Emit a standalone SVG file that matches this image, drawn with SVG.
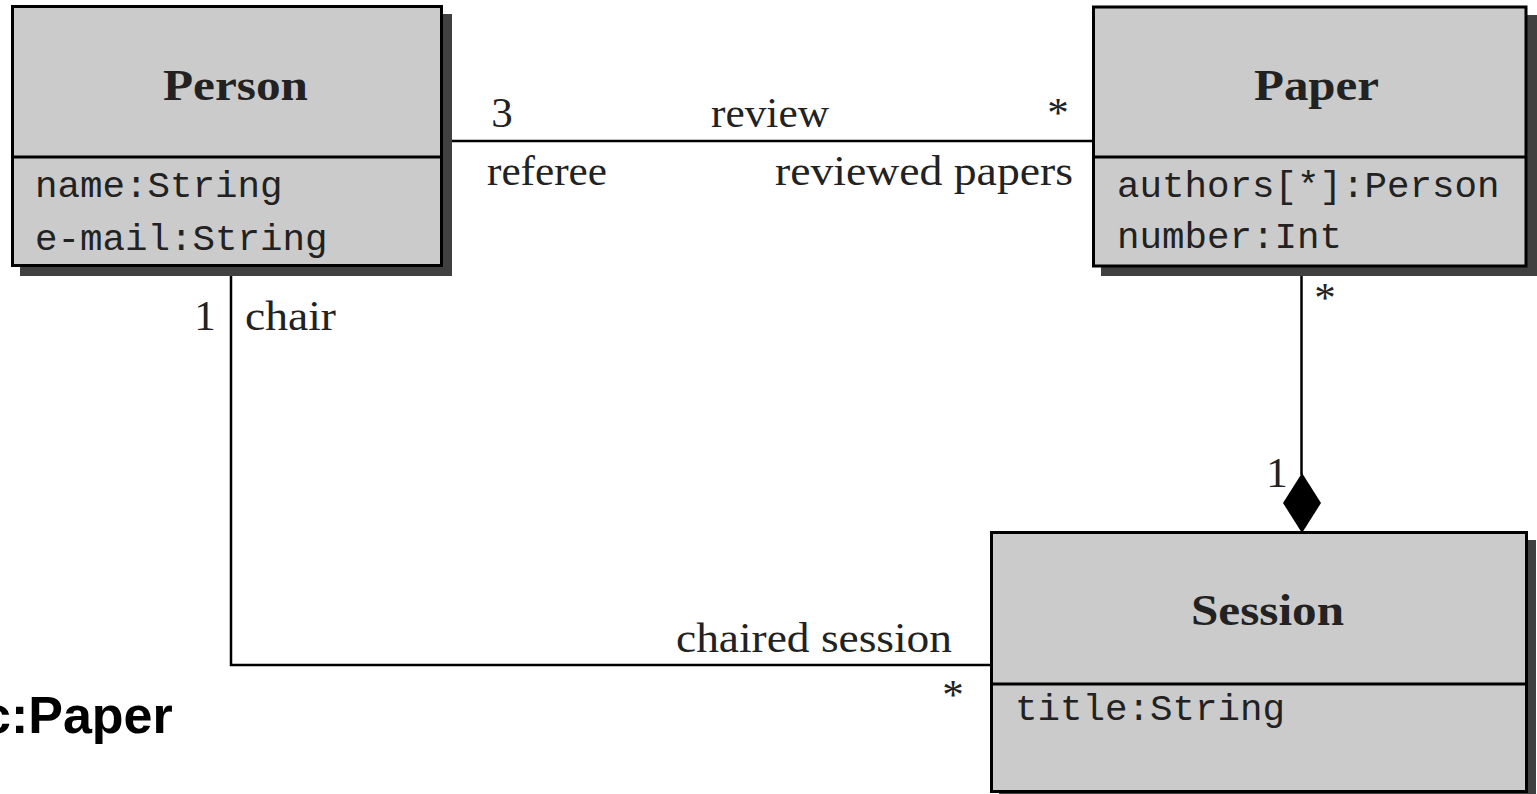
<svg xmlns="http://www.w3.org/2000/svg" width="1537" height="794" viewBox="0 0 1537 794">
  <style>
    .shadow { fill: #404040; }
    .box { fill: #cbcbcb; stroke: #000; stroke-width: 3; }
    .div { stroke: #000; stroke-width: 3; }
    .title { font-family: "Liberation Serif", "DejaVu Serif", serif; font-weight: bold; font-size: 44px; fill: #222; text-anchor: middle; }
    .attr { font-family: "Liberation Mono", "DejaVu Sans Mono", monospace; font-size: 37.5px; fill: #222; }
    .lbl { font-family: "Liberation Serif", "DejaVu Serif", serif; font-size: 43px; fill: #222; }
    .edge { fill: none; stroke: #000; stroke-width: 2.5; }
    .note { font-family: "Liberation Sans", Arial, sans-serif; font-weight: bold; font-size: 52px; fill: #000; }
  </style>

  <!-- associations -->
  <g id="connectors">
    <line class="edge" x1="452" y1="141" x2="1093" y2="141"/>
    <polyline class="edge" points="231,276 231,665 991,665"/>
    <line class="edge" x1="1301.5" y1="276" x2="1301.5" y2="475"/>
    <polygon points="1302,473 1321,503 1302,533 1283,503" fill="#000"/>

    <text class="lbl" x="502" y="127" text-anchor="middle">3</text>
    <text class="lbl" x="711" y="127" textLength="118" lengthAdjust="spacingAndGlyphs">review</text>
    <text class="lbl" x="1058" y="127" text-anchor="middle">*</text>
    <text class="lbl" x="487" y="185" textLength="120" lengthAdjust="spacingAndGlyphs">referee</text>
    <text class="lbl" x="775" y="185" textLength="298" lengthAdjust="spacingAndGlyphs">reviewed papers</text>

    <text class="lbl" x="205" y="330" text-anchor="middle">1</text>
    <text class="lbl" x="245" y="330" textLength="91" lengthAdjust="spacingAndGlyphs">chair</text>
    <text class="lbl" x="676" y="652" textLength="276" lengthAdjust="spacingAndGlyphs">chaired session</text>
    <text class="lbl" x="953" y="709" text-anchor="middle">*</text>

    <text class="lbl" x="1325" y="312" text-anchor="middle">*</text>
    <text class="lbl" x="1277" y="487" text-anchor="middle">1</text>
  </g>

  <!-- Person class -->
  <g id="person">
    <rect class="shadow" x="20" y="14" width="432" height="262"/>
    <rect class="box" x="12.5" y="6.5" width="429" height="259"/>
    <line class="div" x1="12.5" y1="157" x2="441.5" y2="157"/>
    <text class="title" x="235.5" y="100" textLength="145" lengthAdjust="spacingAndGlyphs">Person</text>
    <text class="attr" x="35" y="197">name:String</text>
    <text class="attr" x="35" y="250">e-mail:String</text>
  </g>

  <!-- Paper class -->
  <g id="paper">
    <rect class="shadow" x="1101" y="15" width="436" height="261"/>
    <rect class="box" x="1093.5" y="7" width="432.5" height="259"/>
    <line class="div" x1="1093.5" y1="157" x2="1526" y2="157"/>
    <text class="title" x="1316.5" y="100" textLength="125" lengthAdjust="spacingAndGlyphs">Paper</text>
    <text class="attr" x="1117" y="197">authors[*]:Person</text>
    <text class="attr" x="1117" y="248">number:Int</text>
  </g>

  <!-- Session class -->
  <g id="session">
    <rect class="shadow" x="999" y="540" width="537" height="260"/>
    <rect class="box" x="991.5" y="532.5" width="535" height="259"/>
    <line class="div" x1="991.5" y1="684" x2="1526.5" y2="684"/>
    <text class="title" x="1267.5" y="625" textLength="153" lengthAdjust="spacingAndGlyphs">Session</text>
    <text class="attr" x="1015" y="720">title:String</text>
  </g>

  <!-- object label -->
  <g id="label-c-paper">
    <text class="note" x="-18" y="733">c:Paper</text>
  </g>
</svg>
